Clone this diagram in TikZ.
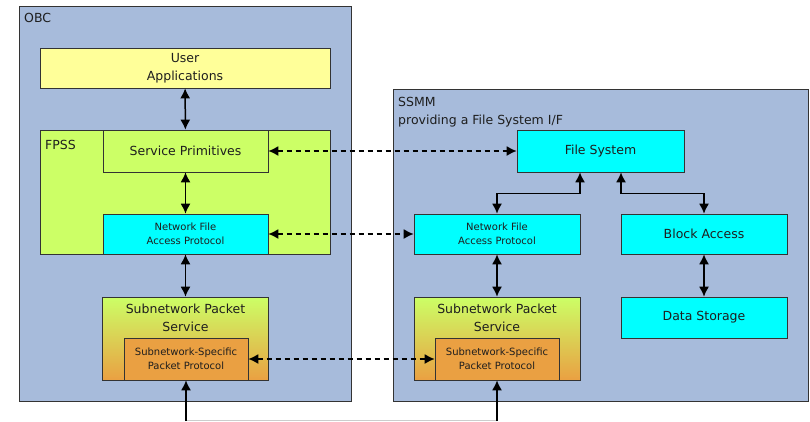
\documentclass[tikz,border=0pt]{standalone}
\usepackage{fontspec}
\setmainfont{DejaVu Sans}
\usepackage{tikz}
\usetikzlibrary{arrows.meta,positioning,shadings}
\definecolor{hostblue}{RGB}{167,187,219}
\definecolor{appyellow}{RGB}{255,255,153}
\definecolor{fpssgreen}{RGB}{204,255,102}
\definecolor{nfapcyan}{RGB}{0,255,255}
\definecolor{ssppOrange}{RGB}{234,160,66}
\definecolor{edgegray}{RGB}{51,51,51}
\definecolor{textgray}{RGB}{30,30,30}

\begin{document}
\begin{tikzpicture}
                    [
                        x=1pt, y=-1pt,
                        every node/.style={text=textgray, font=\fontsize{12.5}{18}\selectfont, inner sep=0pt},
                        hostbox/.style={rectangle, draw=edgegray, fill=hostblue, line width=0.8pt},
                        appbox/.style={rectangle, draw=edgegray, fill=appyellow, line width=0.6pt, minimum width=290pt, minimum height=40pt, align=center},
                        fpssbox/.style={rectangle, draw=edgegray, fill=fpssgreen, line width=0.6pt, align=center},
                        cyanbox/.style={rectangle, draw=edgegray, fill=nfapcyan, line width=0.6pt, minimum width=166pt, minimum height=41pt, align=center},
                        spsbox/.style={rectangle, draw=edgegray, top color=fpssgreen, bottom color=ssppOrange, line width=0.6pt, minimum width=166pt, minimum height=83pt},
                        ssppbox/.style={rectangle, draw=edgegray, fill=ssppOrange, line width=0.6pt, minimum width=124pt, minimum height=42pt, align=center, font=\fontsize{10}{14.5}\selectfont},
                        smalltext/.style={font=\fontsize{10}{14.5}\selectfont},
                        twoway/.style={{Latex[length=10pt,width=10pt]}-{Latex[length=10pt,width=10pt]}, line width=1.5pt, black},
                        twowaydash/.style={twoway, dash pattern=on 5pt off 4pt},
                        upway/.style={-{Latex[length=10pt,width=10pt]}, line width=1.5pt, black},
                    ]

                    \useasboundingbox (0,0) rectangle (810,421);

                    \node[hostbox, minimum width=332pt, minimum height=395pt] (obc) at (185,203.5) {};
                    \node[anchor=west] (textobc) at (24,18) {OBC};
                    \node[appbox] (userapp) at (185,68) {User\\Applications};
                    \node[fpssbox, minimum width=290pt, minimum height=124pt] (fpss) at (185,192) {};
                    \node[anchor=west] (textfpss) at (45,145) {FPSS};
                    \node[fpssbox, minimum width=165pt, minimum height=42pt] (prims) at (185.5,151) {Service Primitives};
                    \node[cyanbox, smalltext, minimum width=165pt, minimum height=40pt] (nfap_obc) at (185.5,234) {Network File\\Access Protocol};
                    \node[spsbox] (sps_obc) at (185.5,338.5) {};
                    \node[below=7pt of sps_obc.north, align=center] (textsps_obc) {Subnetwork Packet\\Service};
                    \node[ssppbox] (sspp_obc) at (186,359) {Subnetwork-Specific\\Packet Protocol};

                    \node[hostbox, minimum width=415pt, minimum height=312pt] (ssmm) at (600.5,245) {};
                    \node[anchor=north west, align=left] (textssmm) at (398,97) {SSMM\\providing a File System I/F};
                    \node[cyanbox, minimum width=167pt, minimum height=42pt] (filesys) at (600.5,151) {File System};
                    \node[cyanbox, smalltext, minimum height=40pt] (nfap_ssmm) at (497,234) {Network File\\Access Protocol};
                    \node[cyanbox, minimum height=40pt] (blockacc) at (704,234) {Block Access};
                    \node[cyanbox] (datastore) at (704,317.5) {Data Storage};
                    \node[spsbox] (sps_ssmm) at (497,338.5) {};
                    \node[below=7pt of sps_ssmm.north, align=center] (textsps_ssmm) {Subnetwork Packet\\Service};
                    \node[ssppbox] (sspp_ssmm) at (497,359) {Subnetwork-Specific\\Packet Protocol};

                    \coordinate (link_obc) at (186,420);
                    \coordinate (link_ssmm) at (497,420);

                    \draw[twoway] (userapp) -- (prims);
                    \draw[twoway] (prims) -- (nfap_obc);
                    \draw[twoway] (nfap_obc) -- (sps_obc);
                    \draw[twowaydash] (prims) -- (filesys);
                    \draw[twowaydash] (nfap_obc) -- (nfap_ssmm);
                    \draw[twowaydash] (sspp_obc) -- (sspp_ssmm);
                    \draw[twoway] ([xshift=-20.5pt]filesys.south) -- ++(0,21) -| (nfap_ssmm.north);
                    \draw[twoway] ([xshift=20.5pt]filesys.south) -- ++(0,21) -| (blockacc.north);
                    \draw[twoway] (nfap_ssmm) -- (sps_ssmm);
                    \draw[twoway] (blockacc) -- (datastore);
                    \draw[gray!40, line width=0.8pt] (link_obc) -- (link_ssmm);
                    \draw[upway] ([yshift=-1pt]link_obc) -- (sspp_obc.south);
                    \draw[upway] ([yshift=-1pt]link_ssmm) -- (sspp_ssmm.south);

                \end{tikzpicture}
\end{document}
